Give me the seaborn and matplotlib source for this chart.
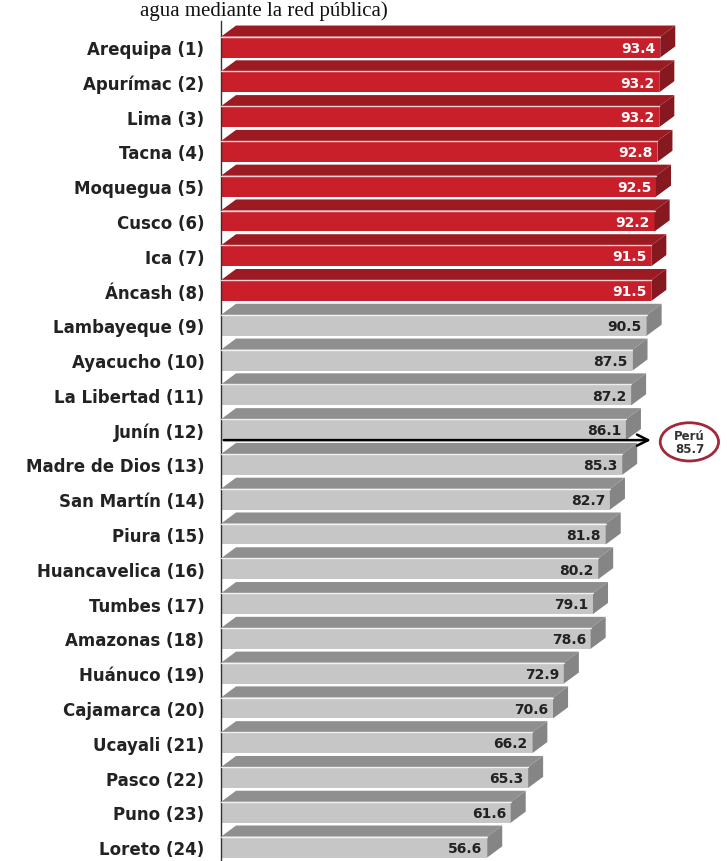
import matplotlib
matplotlib.use("Agg")
import matplotlib.pyplot as plt
from matplotlib.patches import Polygon, Ellipse
import seaborn as sns
import pandas as pd

# data
regions = ["Arequipa", "Apurímac", "Lima", "Tacna", "Moquegua", "Cusco", "Ica", "Áncash",
           "Lambayeque", "Ayacucho", "La Libertad", "Junín", "Madre de Dios", "San Martín",
           "Piura", "Huancavelica", "Tumbes", "Amazonas", "Huánuco", "Cajamarca",
           "Ucayali", "Pasco", "Puno", "Loreto"]
values = [93.4, 93.2, 93.2, 92.8, 92.5, 92.2, 91.5, 91.5,
          90.5, 87.5, 87.2, 86.1, 85.3, 82.7,
          81.8, 80.2, 79.1, 78.6, 72.9, 70.6,
          66.2, 65.3, 61.6, 56.6]
n_top = 8
peru_value = 85.7
title_tail = "agua mediante la red pública)"

labels = [f"{r} ({i + 1})" for i, r in enumerate(regions)]
groups = ["top" if i < n_top else "rest" for i in range(len(regions))]
df = pd.DataFrame({"label": labels, "value": values, "group": groups})

front = {"top": "#c91f2b", "rest": "#c6c6c6"}
upper = {"top": "#9c1a22", "rest": "#8f8f8f"}
side = {"top": "#861820", "rest": "#858585"}

sns.set_style("white")
fig = plt.figure(figsize=(7.27, 8.62), dpi=100)
ax = fig.add_axes([221 / 727, 0.0, 1 - 221 / 727, 1 - 22 / 862])

sns.barplot(data=df, y="label", x="value", hue="group", palette=front,
            orient="h", width=0.6, dodge=False, legend=False, ax=ax,
            edgecolor="none", saturation=1)

# pseudo 3D: top face and side face of every bar
d = 3.2
for i, (v, g) in enumerate(zip(values, groups)):
    ax.add_patch(Polygon([(0, i - 0.3), (v, i - 0.3), (v + d, i - 0.62), (d, i - 0.62)],
                         closed=True, facecolor=upper[g], edgecolor="none", zorder=3))
    ax.add_patch(Polygon([(v, i - 0.3), (v + d, i - 0.62), (v + d, i - 0.02), (v, i + 0.3)],
                         closed=True, facecolor=side[g], edgecolor="none", zorder=3))
    ax.plot([0, v], [i - 0.3, i - 0.3], color="white", lw=1.0, alpha=0.8, zorder=4)
    ax.text(v - 1.0, i + 0.02, f"{v:.1f}", ha="right", va="center",
            fontsize=10, fontweight="bold",
            color="white" if g == "top" else "#222222", zorder=5)

ax.set_xlim(0, 107.6)
ax.set_ylim(len(regions) - 0.6, -0.75)
ax.set_xlabel("")
ax.set_ylabel("")
ax.set_xticks([])
for s in ["top", "right", "bottom"]:
    ax.spines[s].set_visible(False)
ax.spines["left"].set_color("#333333")
ax.spines["left"].set_linewidth(1.0)
ax.tick_params(axis="y", which="major", length=0, pad=12)
ax.set_yticks([i - 0.62 for i in range(len(regions))], minor=True)
ax.tick_params(axis="y", which="minor", length=5, width=1, color="#333333", direction="out")
for t in ax.get_yticklabels():
    t.set_fontsize(12)
    t.set_fontweight("bold")
    t.set_color("#222222")

# national average marker
y_peru = 11.3
ax.annotate("", xy=(92.0, y_peru), xytext=(0, y_peru),
            arrowprops=dict(arrowstyle="->", lw=1.8, color="black", mutation_scale=20),
            zorder=6)
ax.add_patch(Ellipse((99.6, y_peru + 0.05), 12.4, 1.1, facecolor="white",
                     edgecolor="#a02838", lw=2, clip_on=False, zorder=6))
ax.text(99.6, y_peru + 0.05, f"Perú\n{peru_value}", ha="center", va="center",
        fontsize=8.5, fontweight="bold", color="#333333", linespacing=1.0, zorder=7)

fig.text(140 / 727, 1 - 16 / 862, title_tail, ha="left", va="baseline",
         fontsize=15, family="Liberation Serif", color="#111111")

fig.savefig("out.png", dpi=100)
